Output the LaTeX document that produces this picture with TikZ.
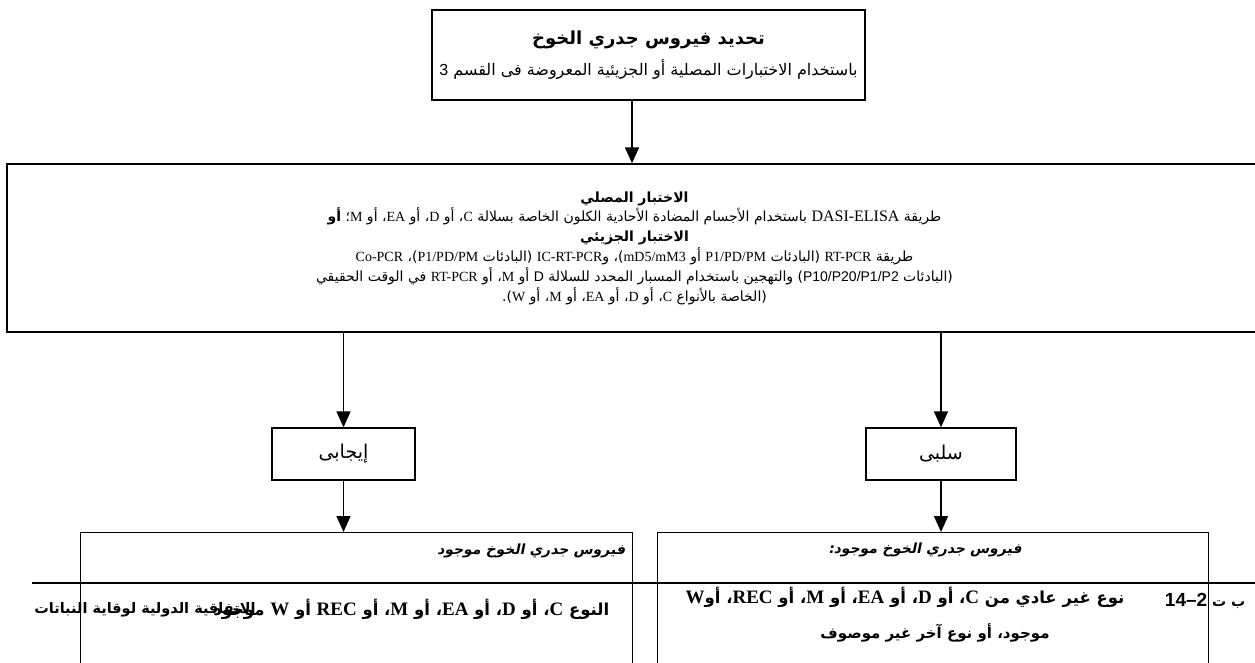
\documentclass[tikz,border=0pt]{standalone}
\usepackage{fontspec}
\setmainfont{Liberation Serif}
\newfontfamily\arabicfont[Script=Arabic]{DejaVu Sans}
\newfontfamily\arabicbi[Script=Arabic,FakeSlant=0.2]{DejaVu Sans Bold}
\newfontfamily\arialfont{Liberation Sans}
\usetikzlibrary{arrows.meta}
\TeXXeTstate=1
\newcommand\lat[1]{\beginL{\rmfamily #1}\endL}
\newcommand\sns[1]{\beginL{\arialfont #1}\endL}
\newcommand\rtlline[1]{\beginR #1\endR}
\newcommand\blat[1]{\lat{\fontsize{19}{20}\selectfont #1}}

\tikzset{
FlowBox/.style={draw=black, line width=1.4pt, inner sep=0pt, align=center, font=\arabicfont},
FlowLine/.style={arrows={-Triangle[length=16pt,width=14pt]}, draw=black, line width=1.6pt},
FlowText/.style={inner sep=0pt, align=center, font=\arabicfont},
}

\begin{document}
\begin{tikzpicture}[x=1pt,y=-1pt]
\useasboundingbox (0,0) rectangle (1255,662);
\clip (0,0) rectangle (1255,662);

\node[FlowBox, minimum width=433pt, minimum height=90pt, font=\arabicfont\fontsize{16}{31}\selectfont] (Ident) at (648.5,55) {%
\rtlline{\fontsize{18}{20}\selectfont\bfseries تحديد فيروس جدري الخوخ}\\
\rtlline{باستخدام الاختبارات المصلية أو الجزيئية المعروضة فى القسم \sns{3}}};

\node[FlowBox, minimum width=1255pt, minimum height=168pt, font=\arabicfont\fontsize{14}{19.8}\selectfont] (Test) at (634.5,248) {%
\rtlline{\bfseries الاختبار المصلي}\\
\rtlline{طريقة \lat{\fontsize{16}{17}\selectfont DASI-ELISA} باستخدام الأجسام المضادة الأحادية الكلون الخاصة بسلالة \lat{C}، أو \lat{D}، أو \lat{EA}، أو \lat{M}؛ {\bfseries أو}}\\
\rtlline{\bfseries الاختبار الجزيئي}\\
\rtlline{طريقة \lat{RT-PCR} (البادئات \lat{P1/PD/PM} أو \lat{mD5/mM3})، و\lat{IC-RT-PCR} (البادئات \lat{P1/PD/PM})، \lat{Co-PCR}}\\
\rtlline{(البادئات \sns{P10/P20/P1/P2}) والتهجين باستخدام المسبار المحدد للسلالة \sns{D} أو \lat{M}، أو \lat{RT-PCR} في الوقت الحقيقي}\\
\rtlline{(الخاصة بالأنواع \lat{C}، أو \lat{D}، أو \lat{EA}، أو \lat{M}، أو \lat{W}).}};

\node[FlowBox, minimum width=143pt, minimum height=52pt, font=\arabicfont\fontsize{19}{20}\selectfont] (Pos) at (343.5,454) {\rtlline{إيجابى}};
\node[FlowBox, minimum width=150pt, minimum height=52pt, font=\arabicfont\fontsize{19}{20}\selectfont] (Neg) at (941,454) {\rtlline{سلبى}};

\node[FlowBox, anchor=north west, minimum width=552pt, minimum height=200pt] (PosRes) at (80,532) {};
\node[FlowBox, anchor=north west, minimum width=551pt, minimum height=200pt] (NegRes) at (657,532) {};

\node[FlowText, anchor=north east, font=\arabicbi\fontsize{14}{16}\selectfont] (PosTitle) at ([xshift=-8pt,yshift=-12pt]PosRes.north east) {\rtlline{فيروس جدري الخوخ موجود}};
\node[FlowText, anchor=north east, font=\arabicfont\bfseries\fontsize{16.5}{18}\selectfont] (PosKind) at ([xshift=-24pt,yshift=-67pt]PosRes.north east) {\rtlline{النوع \blat{C}، أو \blat{D}، أو \blat{EA}، أو \blat{M}، أو \blat{REC} أو \blat{W} موجود}};

\node[FlowText, font=\arabicbi\fontsize{14}{16}\selectfont] (NegTitle) at (925,550) {\rtlline{فيروس جدري الخوخ موجود:}};
\node[FlowText, font=\arabicfont\bfseries\fontsize{16.5}{18}\selectfont] (NegKind) at (905,597) {%
\rtlline{نوع غير عادي من \blat{C}، أو \blat{D}، أو \blat{EA}، أو \blat{M}، أو \blat{REC}، أو\blat{W}}};
\node[FlowText, font=\arabicfont\bfseries\fontsize{15}{18}\selectfont] (NegMore) at (935,633) {%
\rtlline{موجود، أو نوع آخر غير موصوف}};

% arrows
\draw[FlowLine] ([xshift=-16.5pt]Ident.south) -- ([xshift=-16.5pt]Ident.south |- Test.north);
\draw[FlowLine] (Test.south -| Pos.north) -- (Pos.north);
\draw[FlowLine] (Test.south -| Neg.north) -- (Neg.north);
\draw[FlowLine] (Pos.south) -- (Pos.south |- PosRes.north);
\draw[FlowLine] (Neg.south) -- (Neg.south |- NegRes.north);

% page footer
\coordinate (FootL) at (32,583);
\coordinate (FootR) at (1262,583);
\draw[line width=1.4pt] (FootL) -- (FootR);
\node[FlowText, font=\arabicfont\bfseries\fontsize{14.5}{16}\selectfont] (FootOrg) at (145,610) {\rtlline{الاتفاقية الدولية لوقاية النباتات}};
\node[FlowText, font=\arabicfont\bfseries\fontsize{14}{16}\selectfont] (FootRef) at (1205,601) {\rtlline{ب ت \sns{\fontsize{19}{20}\selectfont 14–2}}};
\end{tikzpicture}
\end{document}
